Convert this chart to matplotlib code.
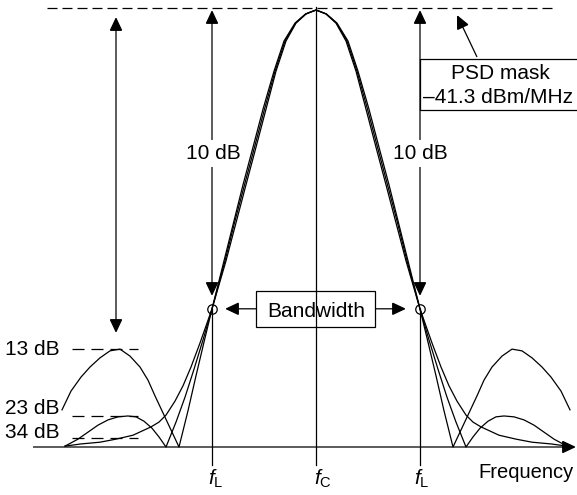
import numpy as np
import matplotlib
matplotlib.use("Agg")
import matplotlib.pyplot as plt
from matplotlib.patches import FancyArrowPatch, Rectangle
from matplotlib.transforms import offset_copy

plt.rcParams['font.family'] = ['Liberation Sans', 'DejaVu Sans']
plt.rcParams['mathtext.fontset'] = 'custom'
plt.rcParams['mathtext.rm'] = 'Liberation Sans'
plt.rcParams['mathtext.it'] = 'Liberation Sans:italic'

# Three pulse spectra: frequency offset from f_C (arbitrary units) and
# relative amplitude (peak = 1). Main lobe shared level grid, per-trace offsets.
lobe_level = [1.0, 0.991, 0.970, 0.929, 0.860, 0.773, 0.686, 0.600, 0.513, 0.426, 0.316]
lobe_offset_a = [0, 10, 20, 30, 40, 50, 60, 70, 80, 90, 104]
lobe_offset_b = [0, 10, 20.5, 31, 41, 51.5, 61.5, 71.5, 81.5, 91, 104]
lobe_offset_c = [0, 10.5, 21, 32, 42, 53, 63, 73, 82.5, 92, 104]

# Skirts beyond f_L: first null and sidelobe of each trace
tail_offset_a = [112, 120, 128, 137, 145, 153, 161, 168, 176, 186, 196, 206, 216, 226, 235, 245, 254]
tail_level_a = [0.240, 0.163, 0.083, 0.0, 0.039, 0.078, 0.117, 0.153, 0.183, 0.208,
                0.224, 0.220, 0.204, 0.183, 0.160, 0.128, 0.085]
tail_offset_b = [113, 122, 131, 140, 150, 157, 164, 172, 180, 188, 198, 208, 218, 228, 238, 251]
tail_level_b = [0.245, 0.178, 0.114, 0.057, 0.0, 0.023, 0.043, 0.059, 0.069, 0.071,
                0.069, 0.062, 0.050, 0.034, 0.018, 0.002]
tail_offset_c = [116, 125, 133, 141, 150, 157, 165, 183, 200, 216, 235, 251]
tail_level_c = [0.238, 0.183, 0.140, 0.105, 0.073, 0.057, 0.046, 0.027, 0.018, 0.011, 0.007, 0.002]

edge_offset = 104          # distance of f_L from f_C
edge_drop_db = 10          # bandwidth defined 10 dB below the peak
sidelobe_db = [13, 23, 34]
sidelobe_labels = ['13 dB', '23 dB', '34 dB']
mask_lines = ['PSD mask', '\u201341.3 dBm/MHz']

FS = 15
LW = 0.9
K = 'black'

fig = plt.figure(figsize=(5.77, 4.95), dpi=100)
ax = fig.add_axes([0, 0, 1, 1])
X0, Y0, SCALE = 316, 447, 437
ax.set_xlim(-X0, 577 - X0)
ax.set_ylim((Y0 - 495) / SCALE, Y0 / SCALE)
ax.axis('off')


def px(x):
    return x - X0


def py(y):
    return (Y0 - y) / SCALE


def arrow(p0, p1, style='-|>'):
    ax.add_patch(FancyArrowPatch(
        p0, p1, arrowstyle=f'{style},head_length=0.85,head_width=0.4',
        mutation_scale=10, lw=LW, color=K, shrinkA=0, shrinkB=0,
        joinstyle='miter', capstyle='butt'))


# spectra, mirrored about f_C
for lo, to, tl in [(lobe_offset_a, tail_offset_a, tail_level_a),
                   (lobe_offset_b, tail_offset_b, tail_level_b),
                   (lobe_offset_c, tail_offset_c, tail_level_c)]:
    off = np.array(lo + to, dtype=float)
    lev = np.array(lobe_level + tl, dtype=float)
    x = np.concatenate([-off[::-1], off[1:]])
    y = np.concatenate([lev[::-1], lev[1:]])
    ax.plot(x, y, color=K, lw=LW, solid_joinstyle='round')

# PSD mask level
ax.plot([px(47), px(553)], [1.0, 1.0], color=K, lw=LW, dashes=(8, 4),
        transform=offset_copy(ax.transData, fig, y=2, units='dots'))

# frequency axis
arrow((px(33), 0), (px(576), 0))

# f_C and f_L markers
edge_level = 10 ** (-edge_drop_db / 20)
ax.plot([0, 0], [py(7), py(465)], color=K, lw=LW)
for s in (-1, 1):
    ax.plot([s * edge_offset] * 2, [edge_level, py(465)], color=K, lw=LW)
    arrow((s * edge_offset, py(296)), (s * edge_offset, 1.0), '<|-|>')
    ax.text(s * edge_offset + (1 if s < 0 else 0), py(159), f'{edge_drop_db} dB',
            ha='center', va='baseline', fontsize=FS,
            bbox=dict(fc='white', ec='none', pad=3))
ax.plot([-edge_offset, edge_offset], [edge_level] * 2, 'o', ms=6.8,
        mfc='none', mec=K, mew=LW)

# overall range arrow on the left
arrow((px(116), py(333)), (px(116), py(17)), '<|-|>')

# bandwidth box
ax.add_patch(Rectangle((px(256), py(327)), 119, 36 / SCALE, fill=False, ec=K, lw=LW))
ax.text(0, py(317), 'Bandwidth', ha='center', va='baseline', fontsize=FS)
arrow((px(256), edge_level), (px(225), edge_level))
arrow((px(375), edge_level), (px(406), edge_level))

# PSD mask annotation
ax.add_patch(Rectangle((px(420), py(110)), 200, 51 / SCALE, fill=False, ec=K, lw=LW))
ax.text(px(500), py(79), mask_lines[0], ha='center', va='baseline', fontsize=FS)
ax.text(px(423), py(103), mask_lines[1], ha='left', va='baseline', fontsize=FS)
arrow((px(477), py(57)), (px(457), py(15)))

# sidelobe levels
for db, lab, base in zip(sidelobe_db, sidelobe_labels, [355, 414, 438]):
    lvl = 10 ** (-db / 20)
    ax.plot([px(72), px(138)], [lvl, lvl], color=K, lw=LW, dashes=(9.6, 5.6))
    ax.text(px(5), py(base), lab, ha='left', va='baseline', fontsize=FS)

# axis labels
ax.text(-edge_offset - 4, py(485), r'$f_\mathrm{L}$', ha='left', va='baseline', fontsize=FS)
ax.text(px(314), py(485), r'$f_\mathrm{C}$', ha='left', va='baseline', fontsize=FS)
ax.text(edge_offset - 6, py(485), r'$f_\mathrm{L}$', ha='left', va='baseline', fontsize=FS)
ax.text(px(478), py(478), 'Frequency', ha='left', va='baseline', fontsize=14.5)

fig.savefig('out.png', dpi=100)
